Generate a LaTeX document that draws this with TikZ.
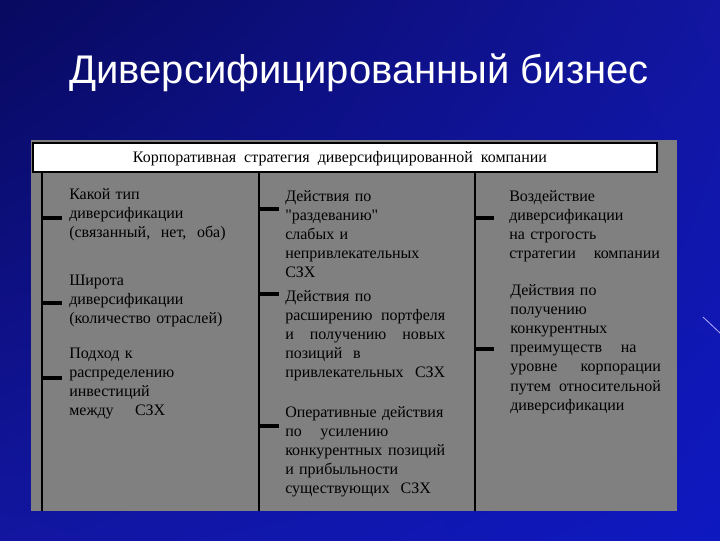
\documentclass[tikz,border=0pt]{standalone}
\usepackage{fontspec}
\setmainfont{Liberation Serif}[Ligatures=TeXOff]
\newfontfamily\titlefont{Liberation Sans}
\usetikzlibrary{positioning, shadings}
\definecolor{slidedark}{RGB}{8,9,95}
\definecolor{slidemid}{RGB}{18,22,160}
\definecolor{slideblue}{RGB}{14,24,192}
\definecolor{panelgrey}{RGB}{128,128,128}
\tikzset{
  item/.style = {anchor=base west, inner sep=0pt, align=left,
    font=\fontsize{12}{14.4}\selectfont},
  bar/.style = {line width=2.2pt},
  notch/.style = {line width=2.4pt}
}

\begin{document}
\begin{tikzpicture}[x=0.75pt, y=-0.75pt]
    \useasboundingbox (0,0) rectangle (720,540);
    % background and panel
    \shade[upper left=slidedark, upper right=slidemid, lower left=slidemid, lower right=slideblue] (0,0) rectangle (720,540);
    \fill[panelgrey] (31,140) rectangle (677,511);
    \draw[white!70!blue, line width=0.6pt] (703,317) -- (720,333);
    \node[anchor=base, text=white, font=\titlefont\fontsize{30}{36}\selectfont] (title) at (359,83) {Диверсифицированный бизнес};
    % header box
    \draw[fill=white, line width=1.8pt] (33,143) rectangle (657,172);
    \node[item, anchor=base] (head) at (340,162) {Корпоративная\ \ стратегия\ \ диверсифицированной\ \ компании};
    % columns
    \draw[bar] (42,172) -- (42,511);
    \draw[bar] (259,172) -- (259,511);
    \draw[bar] (475,172) -- (475,511);
    \foreach \y in {218,303,378} \draw[notch] (42,\y) -- (62,\y);
    \foreach \y in {209,294,426} \draw[notch] (259,\y) -- (279,\y);
    \foreach \y in {218,349} \draw[notch] (475,\y) -- (494,\y);
    % first column
    \node[item, text width=120pt] (typ) at (69,199) {Какой тип\\ диверсификации\\ (связанный,\ \ нет,\ \ оба)};
    \node[item, text width=120pt] (shir) at (69,285) {Широта\\ диверсификации\\ (количество отраслей)};
    \node[item, text width=120pt] (podh) at (69,358) {Подход к\\ распределению\\ инвестиций\\ между\hspace{16pt}СЗХ};
    % second column
    \node[item, text width=120pt] (razd) at (285,201) {Действия по\\ "раздеванию"\\ слабых и\\ непривлекательных\\ СЗХ};
    \node[item, text width=120pt] (rassh) at (285,301) {Действия по\\ расширению\hfill портфеля\\ и\hfill получению\hfill новых\\ позиций\hspace{8pt}в\\ привлекательных\hfill СЗХ};
    \node[item, text width=120pt] (oper) at (285,417) {Оперативные действия\\ по\hspace{14pt}усилению\\ конкурентных\hfill позиций\\ и прибыльности\\ существующих\ \ СЗХ};
    % third column
    \node[item, text width=113pt] (vozd) at (509,201) {Воздействие\\ диверсификации\\ на строгость\\ стратегии\hfill компании};
    \node[item, text width=113pt] (konk) at (510,295) {Действия по\\ получению\\ конкурентных\\ преимуществ\hspace{14pt}на\\ уровне\hfill корпорации\\ путем\hfill относительной\\ диверсификации};
\end{tikzpicture}
\end{document}
